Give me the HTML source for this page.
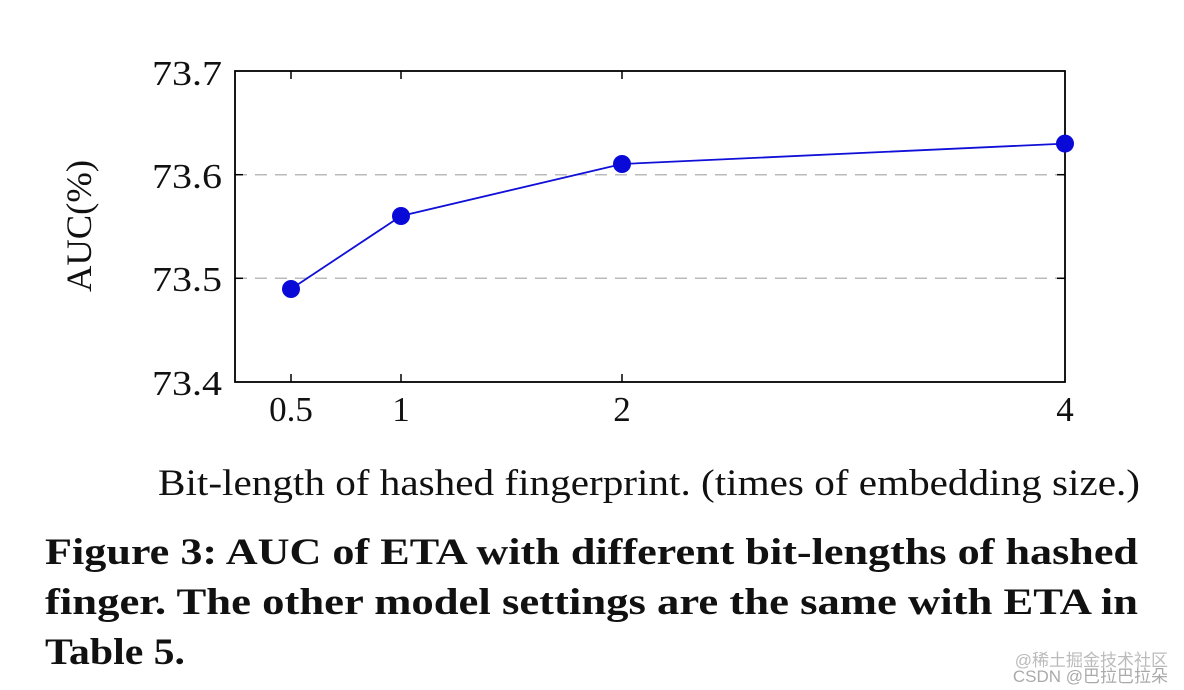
<!DOCTYPE html>
<html><head><meta charset="utf-8"><style>
html,body{margin:0;padding:0;background:#fff;width:1184px;height:690px;overflow:hidden}
</style></head><body>
<svg width="1184" height="690" style="position:absolute;left:0;top:0" font-family="Liberation Serif, serif">
<line x1="235" y1="174.7" x2="1065" y2="174.7" stroke="#bbb" stroke-width="1.5" stroke-dasharray="12,8"/>
<line x1="235" y1="278.3" x2="1065" y2="278.3" stroke="#bbb" stroke-width="1.5" stroke-dasharray="12,8"/>
<rect x="235" y="71" width="830" height="311" fill="none" stroke="#000" stroke-width="1.8"/>
<g stroke="#000" stroke-width="1.5">
<line x1="235" y1="174.7" x2="243" y2="174.7"/><line x1="1065" y1="174.7" x2="1057" y2="174.7"/>
<line x1="235" y1="278.3" x2="243" y2="278.3"/><line x1="1065" y1="278.3" x2="1057" y2="278.3"/>
<line x1="291" y1="382" x2="291" y2="374"/><line x1="401" y1="382" x2="401" y2="374"/><line x1="622" y1="382" x2="622" y2="374"/>
<line x1="291" y1="71" x2="291" y2="79"/><line x1="401" y1="71" x2="401" y2="79"/><line x1="622" y1="71" x2="622" y2="79"/>
</g>
<polyline points="291,289 401,216 622,164 1065,143.6" fill="none" stroke="#1010d8" stroke-width="1.8"/>
<g fill="#0a0ad8"><circle cx="291" cy="289" r="9"/><circle cx="401" cy="216" r="9"/><circle cx="622" cy="164" r="9"/><circle cx="1065" cy="143.6" r="9"/></g>
<g font-size="35" fill="#111">
<text x="152" y="85" textLength="70" lengthAdjust="spacingAndGlyphs">73.7</text>
<text x="152" y="188" textLength="70" lengthAdjust="spacingAndGlyphs">73.6</text>
<text x="152" y="291" textLength="70" lengthAdjust="spacingAndGlyphs">73.5</text>
<text x="152" y="395" textLength="70" lengthAdjust="spacingAndGlyphs">73.4</text>
</g>
<g font-size="35" text-anchor="middle" fill="#111">
<text x="291" y="421">0.5</text><text x="401" y="421">1</text><text x="622" y="421">2</text><text x="1065" y="421">4</text>
</g>
<text transform="translate(91,292) rotate(-90)" font-size="36" fill="#111" textLength="132" lengthAdjust="spacingAndGlyphs">AUC(%)</text>
<text x="158" y="495" font-size="37" fill="#111" textLength="982" lengthAdjust="spacingAndGlyphs">Bit-length of hashed fingerprint. (times of embedding size.)</text>
<g font-size="37" font-weight="bold" fill="#111">
<text x="45" y="564" textLength="1093" lengthAdjust="spacingAndGlyphs">Figure 3: AUC of ETA with different bit-lengths of hashed</text>
<text x="45" y="614" textLength="1093" lengthAdjust="spacingAndGlyphs">finger. The other model settings are the same with ETA in</text>
<text x="45" y="664" textLength="140" lengthAdjust="spacingAndGlyphs">Table 5.</text>
</g>
<text x="1168" y="666" font-size="17" text-anchor="end" fill="#bbb" font-family="Liberation Sans, Noto Sans CJK SC, sans-serif">@稀土掘金技术社区</text>
<text x="1168" y="682" font-size="17" text-anchor="end" fill="#aaa" font-family="Liberation Sans, Noto Sans CJK SC, sans-serif">CSDN @巴拉巴拉朵</text>
</svg>
</body></html>
